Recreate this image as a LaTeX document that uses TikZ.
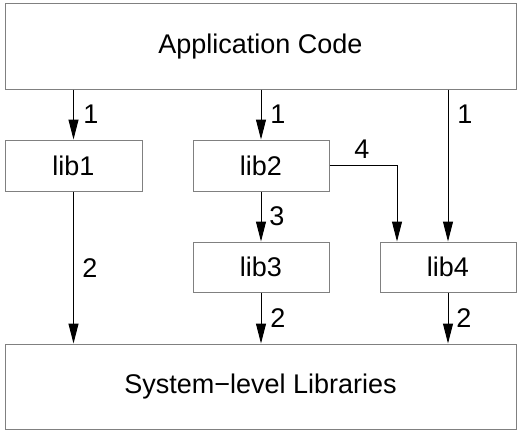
\documentclass[tikz,border=0pt]{standalone}
\usepackage{fontspec}
\setmainfont{Liberation Sans}
\usetikzlibrary{arrows.meta}
\definecolor{boxgray}{RGB}{128,128,128}
\begin{document}
\begin{tikzpicture}[x=1pt,y=-1pt,
  box/.style={draw=boxgray,line width=1pt,rectangle,inner sep=0pt,font=\fontsize{27}{31}\selectfont},
  conn/.style={draw=black,line width=1pt,-{Triangle[length=20pt,width=10pt]}},
  lbl/.style={inner sep=0pt,font=\fontsize{27}{31}\selectfont}]
\useasboundingbox (0,0) rectangle (522,436);
\node[box,minimum width=511pt,minimum height=85pt] (app) at (260.5,46.5) {Application Code};
\node[box,minimum width=137pt,minimum height=51pt] (lib1) at (73.5,165.5) {lib1};
\node[box,minimum width=136pt,minimum height=51pt] (lib2) at (261,165.5) {lib2};
\node[box,minimum width=136pt,minimum height=50pt] (lib3) at (261,267) {lib3};
\node[box,minimum width=136pt,minimum height=50pt] (lib4) at (448,267) {lib4};
\node[box,minimum width=511pt,minimum height=85pt] (sys) at (260.5,386.5) {System\textminus level Libraries};
\draw[conn] (app.south -| lib1.north) -- (lib1.north);
\draw[conn] (app.south -| lib2.north) -- (lib2.north);
\draw[conn] (app.south -| lib4.north) -- (lib4.north);
\draw[conn] (lib2.south) -- (lib3.north);
\draw[conn] (lib2.east) -| ([xshift=-51pt]lib4.north);
\draw[conn] (lib1.south) -- (lib1.south |- sys.north);
\draw[conn] (lib3.south) -- (lib3.south |- sys.north);
\draw[conn] (lib4.south) -- (lib4.south |- sys.north);
\node[lbl] (l1a) at (91,114) {1};
\node[lbl] (l1b) at (278,114) {1};
\node[lbl] (l1c) at (465,114) {1};
\node[lbl] (l4) at (362,149) {4};
\node[lbl] (l3) at (277,216) {3};
\node[lbl] (l2a) at (90,268) {2};
\node[lbl] (l2b) at (278,318) {2};
\node[lbl] (l2c) at (464,318) {2};
\end{tikzpicture}
\end{document}
